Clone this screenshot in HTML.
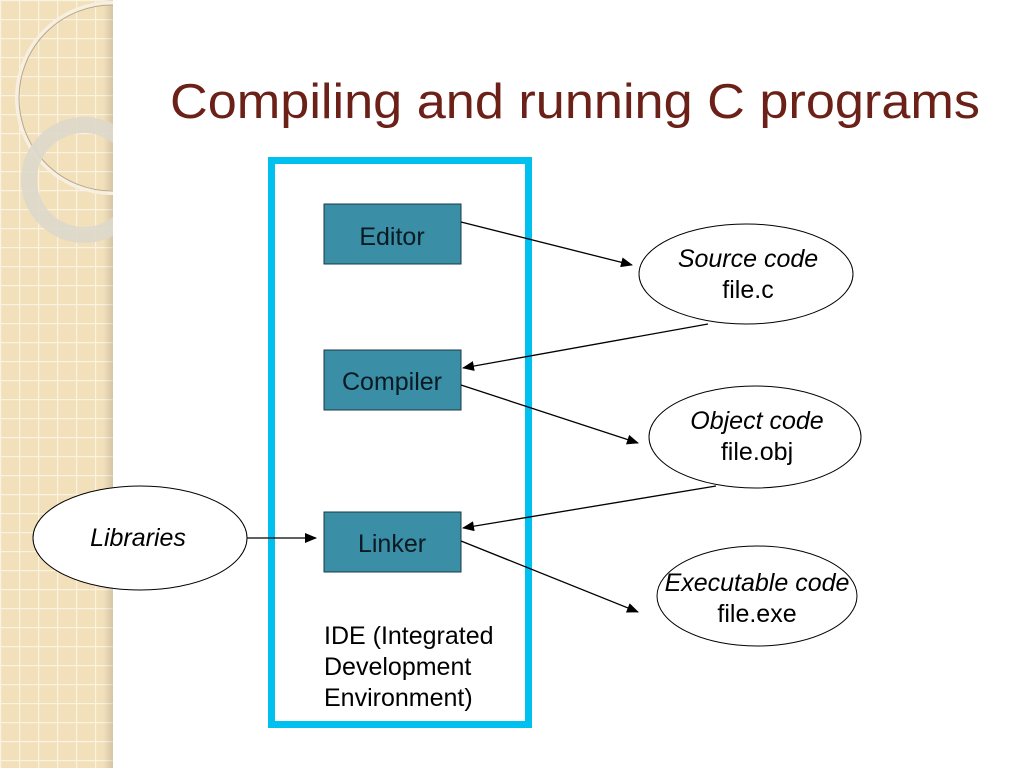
<!DOCTYPE html>
<html><head><meta charset="utf-8"><style>
html,body{margin:0;padding:0;background:#fff}
svg{display:block}
</style></head><body>
<svg width="1024" height="768" viewBox="0 0 1024 768" xmlns="http://www.w3.org/2000/svg" font-family="Liberation Sans, sans-serif">
<defs>
<pattern id="g" width="19" height="19" patternUnits="userSpaceOnUse">
<rect width="19" height="19" fill="#f2e0bb"/>
<path d="M0 0.5H19M0.5 0V19" stroke="#fbf3e2" stroke-width="1.5"/>
</pattern>
<linearGradient id="sh" x1="0" x2="1"><stop offset="0" stop-color="#000" stop-opacity="0"/><stop offset="1" stop-color="#000" stop-opacity="0.12"/></linearGradient>
<marker id="a" markerWidth="12" markerHeight="10" refX="11" refY="5" orient="auto" markerUnits="userSpaceOnUse"><path d="M0 0L12 5L0 10z" fill="#000"/></marker>
</defs>
<rect x="0" y="0" width="113" height="768" fill="url(#g)"/>
<rect x="103" y="0" width="10" height="768" fill="url(#sh)"/>
<clipPath id="c"><rect x="0" y="0" width="113" height="768"/></clipPath>
<g clip-path="url(#c)">
<circle cx="112" cy="98" r="95" fill="none" stroke="#f7efe0" stroke-width="4"/>
<circle cx="112" cy="98" r="93" fill="none" stroke="#b8a88a" stroke-width="1"/>
<circle cx="84" cy="180" r="55" fill="none" stroke="#ddd8cc" stroke-width="16" opacity="0.9"/>
</g>
<text x="170" y="118" font-size="49" fill="#6b2018" textLength="810" lengthAdjust="spacingAndGlyphs">Compiling and running C programs</text>
<rect x="271.5" y="160.5" width="257" height="564" fill="none" stroke="#00c0f0" stroke-width="7"/>
<g fill="#3a8ea5" stroke="#1a3a44" stroke-width="1">
<rect x="324" y="204" width="137" height="60"/>
<rect x="324" y="350" width="137" height="60"/>
<rect x="324" y="512" width="137" height="60"/>
</g>
<g font-size="25" fill="#0a1a22" text-anchor="middle">
<text x="392" y="245">Editor</text>
<text x="392" y="390">Compiler</text>
<text x="392" y="552">Linker</text>
</g>
<g fill="#fff" stroke="#000" stroke-width="1">
<ellipse cx="746" cy="274" rx="107" ry="50"/>
<ellipse cx="755" cy="437" rx="106" ry="51"/>
<ellipse cx="757" cy="596" rx="100" ry="50"/>
<ellipse cx="140" cy="538" rx="107" ry="52"/>
</g>
<g font-size="25" fill="#000" text-anchor="middle">
<text x="748" y="267" font-style="italic">Source code</text>
<text x="748" y="298">file.c</text>
<text x="757" y="429" font-style="italic">Object code</text>
<text x="757" y="460">file.obj</text>
<text x="757" y="591" font-style="italic">Executable code</text>
<text x="757" y="622">file.exe</text>
<text x="138" y="546" font-style="italic">Libraries</text>
</g>
<g stroke="#000" stroke-width="1.3" fill="none" marker-end="url(#a)">
<line x1="461" y1="222" x2="632" y2="265"/>
<line x1="708" y1="324" x2="463" y2="368"/>
<line x1="461" y1="385" x2="638" y2="443"/>
<line x1="716" y1="486" x2="463" y2="528"/>
<line x1="461" y1="541" x2="638" y2="612"/>
<line x1="247" y1="538" x2="316" y2="538"/>
</g>
<g font-size="25" fill="#000">
<text x="324" y="644">IDE (Integrated</text>
<text x="324" y="675">Development</text>
<text x="324" y="706">Environment)</text>
</g>
</svg>
</body></html>
